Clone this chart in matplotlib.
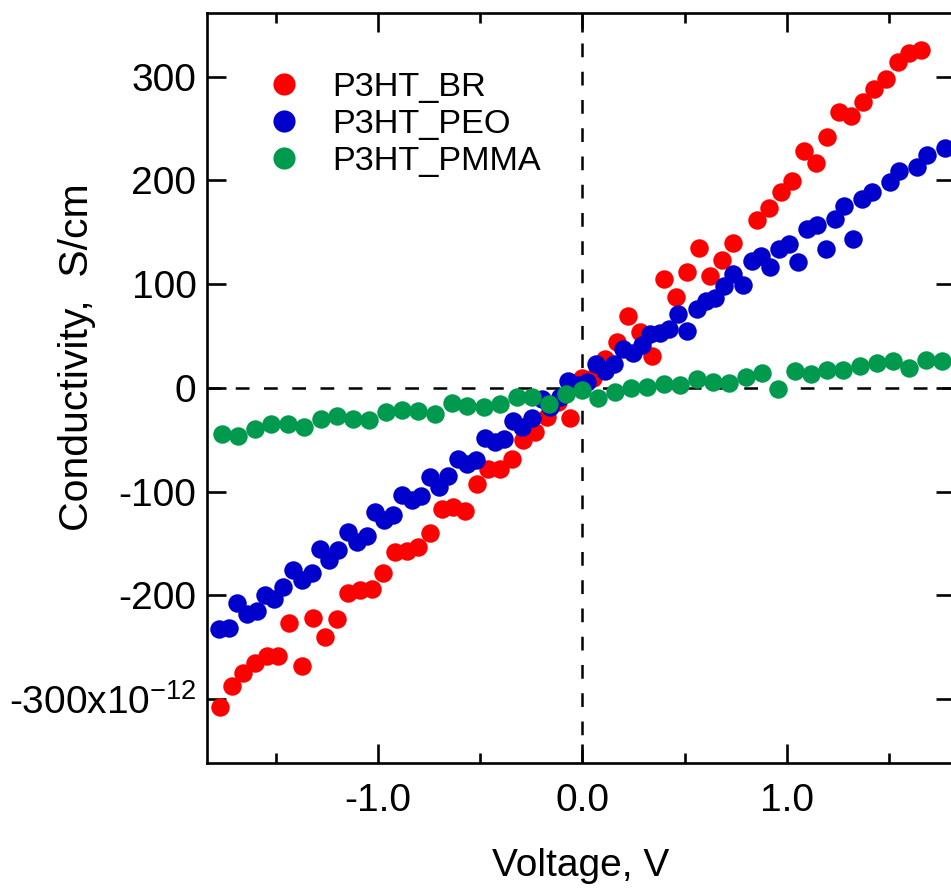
import matplotlib
matplotlib.use("Agg")
import matplotlib.pyplot as plt

# --- data (Voltage in V, conductivity in 1e-12 S/cm) ---
br_v = [-1.772, -1.714, -1.658, -1.600, -1.543, -1.487, -1.433, -1.372, -1.315, -1.258,
        -1.201, -1.144, -1.087, -1.030, -0.973, -0.916, -0.859, -0.802, -0.745, -0.688,
        -0.631, -0.574, -0.516, -0.460, -0.402, -0.345, -0.288, -0.231, -0.174, -0.117,
        -0.060, -0.003, 0.054, 0.111, 0.168, 0.225, 0.282, 0.339, 0.401, 0.458,
        0.514, 0.571, 0.624, 0.685, 0.738, 0.856, 0.913, 0.970, 1.027, 1.086,
        1.143, 1.198, 1.257, 1.314, 1.371, 1.426, 1.484, 1.542, 1.598, 1.655]
br_c = [-307.7, -287.8, -274.9, -265.3, -258.2, -258.2, -226.8, -268.5, -221.6, -240.3,
        -222.5, -197.9, -194.6, -194.0, -178.6, -158.4, -157.4, -153.6, -140.1, -116.6,
        -115.0, -118.9, -93.2, -78.0, -78.0, -68.4, -50.1, -42.8, -28.3, -14.0,
        -29.5, 9.0, 9.0, 28.0, 43.9, 69.0, 53.6, 30.5, 105.0, 88.0,
        111.4, 134.9, 108.2, 123.3, 139.3, 162.1, 173.4, 188.4, 199.0, 228.6,
        216.8, 242.1, 266.2, 262.3, 275.1, 288.1, 297.7, 314.4, 322.4, 325.6]

peo_v = [-1.776, -1.726, -1.687, -1.641, -1.592, -1.552, -1.508, -1.462, -1.416, -1.372,
         -1.323, -1.283, -1.237, -1.193, -1.147, -1.103, -1.054, -1.014, -0.970, -0.924,
         -0.880, -0.834, -0.789, -0.745, -0.699, -0.655, -0.606, -0.565, -0.520, -0.476,
         -0.427, -0.383, -0.337, -0.293, -0.247, -0.199, -0.158, -0.109, -0.068, -0.023,
         0.021, 0.067, 0.111, 0.155, 0.200, 0.249, 0.290, 0.331, 0.380, 0.424,
         0.469, 0.514, 0.559, 0.605, 0.649, 0.693, 0.738, 0.784, 0.828, 0.874,
         0.918, 0.963, 1.011, 1.056, 1.100, 1.146, 1.190, 1.236, 1.280, 1.325,
         1.369, 1.415, 1.505, 1.549, 1.638, 1.684, 1.774]
peo_c = [-232.2, -231.2, -207.5, -217.7, -215.2, -200.1, -203.3, -192.1, -175.3, -185.0,
         -178.6, -155.1, -166.4, -156.1, -139.1, -148.7, -143.3, -119.8, -127.8, -123.0,
         -103.8, -108.6, -104.7, -86.1, -95.8, -85.5, -68.4, -73.2, -69.4, -48.2,
         -52.4, -49.1, -32.2, -38.0, -29.0, -10.6, -18.5, -9.0, 7.0, 3.0,
         5.5, 23.1, 16.0, 23.1, 37.6, 33.5, 40.8, 52.0, 52.8, 56.8,
         71.3, 54.5, 76.1, 84.1, 86.3, 98.6, 109.8, 99.5, 122.6, 127.5,
         116.2, 133.9, 138.7, 121.0, 153.2, 157.3, 133.9, 162.8, 175.6, 143.5,
         182.1, 188.4, 198.1, 208.7, 212.5, 224.8, 231.2]

pmma_v = [-1.760, -1.682, -1.600, -1.522, -1.441, -1.361, -1.279, -1.201, -1.123, -1.042,
          -0.961, -0.883, -0.802, -0.720, -0.639, -0.562, -0.481, -0.402, -0.321, -0.245,
          -0.161, -0.081, -0.003, 0.078, 0.160, 0.237, 0.318, 0.400, 0.478, 0.559,
          0.638, 0.719, 0.799, 0.877, 0.958, 1.040, 1.118, 1.198, 1.276, 1.358,
          1.440, 1.518, 1.599, 1.681, 1.757]
pmma_c = [-44.3, -46.9, -39.5, -34.7, -34.7, -38.0, -29.9, -27.6, -29.9, -31.5,
          -23.5, -21.9, -22.5, -25.0, -14.8, -17.1, -18.7, -16.1, -9.0, -9.3,
          -16.1, -6.0, -2.5, -10.0, -4.0, 0.0, 1.0, 3.5, 2.2, 8.7,
          5.4, 4.4, 10.2, 14.1, -1.0, 16.0, 13.5, 17.3, 17.3, 20.8,
          23.7, 26.3, 19.3, 27.0, 25.6]

x_ticks = [-1.0, 0.0, 1.0]
x_minor = [-1.5, -0.5, 0.5, 1.5]
y_ticks = [-300, -200, -100, 0, 100, 200, 300]
y_labels = ["-300x10$^{-12}$", "-200", "-100", "0", "100", "200", "300"]

# --- style ---
plt.rcParams["font.family"] = ["Liberation Sans", "DejaVu Sans"]
plt.rcParams["mathtext.default"] = "regular"
plt.rcParams["axes.unicode_minus"] = False

fig = plt.figure(figsize=(9.51, 8.90), dpi=100)
ax = fig.add_axes([0.218, 0.143, 0.786, 0.842])

ms = 13.3
ax.plot(br_v, br_c, "o", color="#ff0000", ms=ms, mew=0, label="P3HT_BR", zorder=2)
ax.plot(peo_v, peo_c, "o", color="#0000cc", ms=ms, mew=0, label="P3HT_PEO", zorder=3)
ax.plot(pmma_v, pmma_c, "o", color="#009a4e", ms=ms, mew=0, label="P3HT_PMMA", zorder=4)

# dashed zero lines
ax.axhline(0, color="black", lw=1.8, linestyle=(0, (5.5, 5.8)), zorder=1)
ax.axvline(0, color="black", lw=1.8, linestyle=(0, (5.5, 5.8)), zorder=1)

ax.set_xlim(-1.834, 1.822)
ax.set_ylim(-361.5, 361.0)

ax.set_xticks(x_ticks)
ax.set_xticklabels([f"{t:.1f}" for t in x_ticks])
ax.set_xticks(x_minor, minor=True)
ax.set_yticks(y_ticks)
ax.set_yticklabels(y_labels)

for s in ax.spines.values():
    s.set_linewidth(1.9)
ax.tick_params(which="both", direction="in", top=True, right=True, width=1.9)
ax.tick_params(which="major", length=13.5)
ax.tick_params(which="minor", length=7)
ax.tick_params(axis="x", which="major", labelsize=28, pad=14.5)
ax.tick_params(axis="y", which="major", labelsize=28, pad=7.8)

ax.set_xlabel("Voltage, V", fontsize=28)
ax.set_ylabel("Conductivity,  S/cm", fontsize=29.5)
ax.xaxis.set_label_coords(0.5, -0.114)
ax.yaxis.set_label_coords(-0.149, 0.541)

ax.legend(loc="upper left", bbox_to_anchor=(0.0617, 0.9396), frameon=False,
          fontsize=24.7, markerscale=1.2, handlelength=1.0, handletextpad=0.89,
          labelspacing=0.175, borderpad=0.4, borderaxespad=0)

fig.savefig("out.png", dpi=100)
